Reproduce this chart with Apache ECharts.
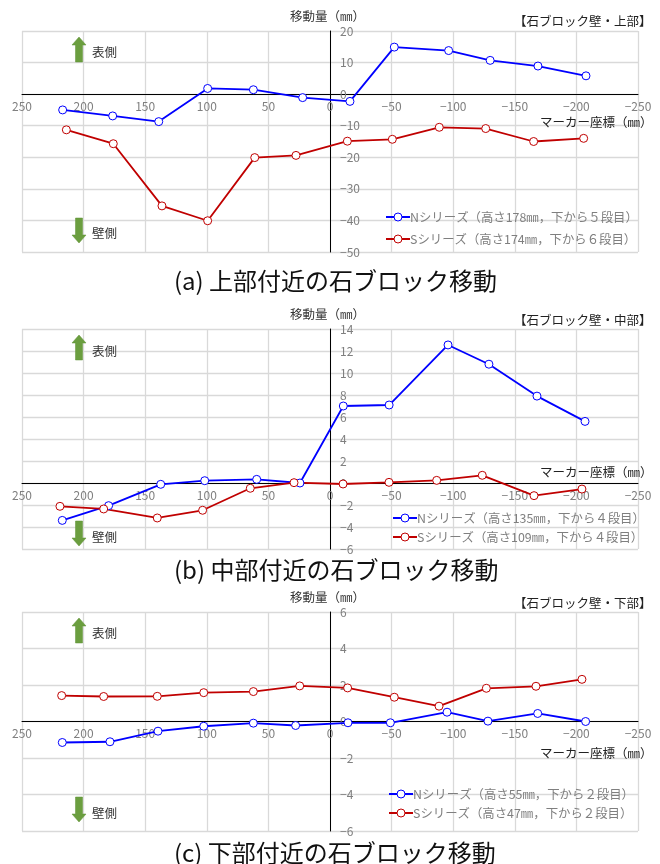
<!DOCTYPE html>
<html>
<head>
<meta charset="utf-8">
<title>石ブロック移動</title>
<script src="https://cdn.jsdelivr.net/npm/echarts@6/dist/echarts.min.js"></script>
<style>
  html, body { margin: 0; padding: 0; background: #fff; }
  #chart { width: 660px; height: 864px; }
</style>
</head>
<body>
<div id="chart"></div>
<script>
// marker positions (mm) and displacement (mm)
const topNx = [217, 176.4, 139, 99.3, 62.2, 22.2, -16.2, -52.2, -96.3, -130, -168.8, -207.8];
const topNy = [-5, -6.9, -8.7, 1.8, 1.4, -1.1, -2.3, 14.9, 13.8, 10.7, 8.9, 5.8];
const topSx = [214, 175.9, 136.4, 99.3, 61.1, 27.6, -14.1, -50.6, -88.7, -126.4, -165.3, -205.9];
const topSy = [-11.3, -15.7, -35.4, -40.1, -20.1, -19.4, -14.9, -14.3, -10.5, -10.9, -15, -14];

const midNx = [217.3, 179.7, 137.4, 101.7, 59.5, 24.4, -10.8, -48, -95.8, -129, -168, -207];
const midNy = [-3.4, -2.06, -0.12, 0.21, 0.33, 0, 7, 7.09, 12.55, 10.8, 7.9, 5.6];
const midSx = [219.2, 183.7, 140.2, 103.4, 64.7, 29.2, -10.6, -47.9, -86.6, -123.6, -165.6, -204.5];
const midSy = [-2.12, -2.36, -3.18, -2.48, -0.48, 0.03, -0.09, 0.06, 0.24, 0.7, -1.15, -0.55];

const lowNx = [217.3, 178.6, 139.6, 102.5, 62.2, 27.9, -14.6, -49, -95, -128.2, -168.6, -207.5];
const lowNy = [-1.15, -1.11, -0.53, -0.26, -0.09, -0.22, -0.07, -0.07, 0.51, 0.02, 0.44, 0];
const lowSx = [217.8, 183.7, 140.2, 102.5, 62.2, 24.6, -14.3, -52.2, -88.5, -126.9, -167.2, -204.5];
const lowSy = [1.42, 1.37, 1.38, 1.58, 1.64, 1.95, 1.84, 1.33, 0.84, 1.82, 1.93, 2.31];

const panels = [
  {
    top: 31, height: 221, yMin: -50, yMax: 20, yStep: 10,
    nName: 'Nシリーズ（高さ178㎜，下から５段目）', sName: 'Sシリーズ（高さ174㎜，下から６段目）',
    nx: topNx, ny: topNy, sx: topSx, sy: topSy,
    tag: '【石ブロック壁・上部】', caption: '(a) 上部付近の石ブロック移動',
    legendLeft: 385, legendTop: 210, legendGap: 22, xNameY: 122, axisTitleY: 16, tagY: 21, captionY: 281,
    upTop: 37, downTop: 218, upTextY: 52, downTextY: 233
  },
  {
    top: 329, height: 220, yMin: -6, yMax: 14, yStep: 2,
    nName: 'Nシリーズ（高さ135㎜，下から４段目）', sName: 'Sシリーズ（高さ109㎜，下から４段目）',
    nx: midNx, ny: midNy, sx: midSx, sy: midSy,
    tag: '【石ブロック壁・中部】', caption: '(b) 中部付近の石ブロック移動',
    legendLeft: 392, legendTop: 511, legendGap: 19, xNameY: 472, axisTitleY: 314, tagY: 320, captionY: 570,
    upTop: 335, downTop: 521, upTextY: 351, downTextY: 537
  },
  {
    top: 612, height: 219, yMin: -6, yMax: 6, yStep: 2,
    nName: 'Nシリーズ（高さ55㎜，下から２段目）', sName: 'Sシリーズ（高さ47㎜，下から２段目）',
    nx: lowNx, ny: lowNy, sx: lowSx, sy: lowSy,
    tag: '【石ブロック壁・下部】', caption: '(c) 下部付近の石ブロック移動',
    legendLeft: 388, legendTop: 787, legendGap: 19, xNameY: 753, axisTitleY: 597, tagY: 603, captionY: 853,
    upTop: 618, downTop: 797, upTextY: 633, downTextY: 813
  }
];

const FONT = '"Noto Sans CJK JP", sans-serif';
const GRID_LEFT = 22, GRID_WIDTH = 616;

function zip(xs, ys) {
  return xs.map((x, i) => [x, ys[i]]);
}

function label(text, x, y, size, color) {
  return {
    type: 'text', x: x, y: y, z: 100, silent: true,
    style: {
      text: text, fontSize: size, fontFamily: FONT, fill: color, textVerticalAlign: 'middle'
    }
  };
}

// the green arrows are drawn as plain shapes, they carry no data
function arrow(top, up) {
  const c = 79, h = 25, d = up ? 1 : -1;
  const y0 = up ? top : top + h;
  return {
    type: 'polygon', z: 100, silent: true,
    shape: { points: [
      [c, y0], [c + 7, y0 + 8 * d], [c + 3.5, y0 + 8 * d], [c + 3.5, y0 + h * d],
      [c - 3.5, y0 + h * d], [c - 3.5, y0 + 8 * d], [c - 7, y0 + 8 * d]
    ] },
    style: { fill: '#6b9e3f', stroke: '#5f9035', lineWidth: 0.5 }
  };
}

const grids = [], xAxes = [], yAxes = [], series = [], legends = [], graphics = [];

function lineSeries(name, color, xs, ys, idx) {
  return {
    name: name, type: 'line', xAxisIndex: idx, yAxisIndex: idx,
    data: zip(xs, ys), symbol: 'circle', symbolSize: 8, showSymbol: true,
    lineStyle: { color: color, width: 1.8 },
    itemStyle: { color: '#fff', borderColor: color, borderWidth: 1 },
    animation: false
  };
}

panels.forEach((p, i) => {
  grids.push({ left: GRID_LEFT, width: GRID_WIDTH, top: p.top, height: p.height, show: false });
  // v6 keeps labels at the grid edge with onZero, so shift the whole axis by offset instead
  xAxes.push({
    type: 'value', gridIndex: i, min: -250, max: 250, interval: 50, inverse: true,
    position: 'bottom',
    offset: p.height * p.yMin / (p.yMax - p.yMin),
    axisLine: { onZero: false, lineStyle: { color: '#000', width: 1 } },
    axisTick: { show: false },
    axisLabel: {
      color: '#7f7f7f', fontSize: 12, fontFamily: FONT, margin: 6,
      formatter: v => String(v).replace('-', '−')
    },
    splitLine: { show: true, lineStyle: { color: '#d9d9d9', width: 1.3 } }
  });
  yAxes.push({
    type: 'value', gridIndex: i, min: p.yMin, max: p.yMax, interval: p.yStep,
    position: 'left',
    offset: -GRID_WIDTH / 2,
    axisLine: { onZero: false, lineStyle: { color: '#000', width: 1 } },
    axisTick: { show: false },
    axisLabel: {
      inside: true, color: '#7f7f7f', fontSize: 12, fontFamily: FONT, margin: 10,
      align: 'left',
      formatter: v => String(v).replace('-', '−')
    },
    splitLine: { show: true, lineStyle: { color: '#d9d9d9', width: 1.3 } }
  });
  series.push(lineSeries(p.nName, '#0000ff', p.nx, p.ny, i));
  series.push(lineSeries(p.sName, '#c00000', p.sx, p.sy, i));
  legends.push({
    data: [p.nName, p.sName], orient: 'vertical', left: p.legendLeft, top: p.legendTop,
    padding: 0, itemGap: p.legendGap - 14, itemWidth: 24, itemHeight: 10,
    itemStyle: { borderWidth: 1 },
    textStyle: { color: '#7f7f7f', fontSize: 12.4, lineHeight: 14, fontFamily: FONT, padding: [0, 0, 0, -5] },
    selectedMode: false
  });
  graphics.push(label('移動量（㎜）', 290, p.axisTitleY, 12.5, '#333'));
  graphics.push(label(p.tag, 514, p.tagY, 12.5, '#222'));
  graphics.push(label('マーカー座標（㎜）', 540, p.xNameY, 12.5, '#222'));
  graphics.push(label(p.caption, 174, p.captionY, 24, '#111'));
  graphics.push(label('表側', 92, p.upTextY, 12.5, '#333'));
  graphics.push(label('壁側', 92, p.downTextY, 12.5, '#333'));
  graphics.push(arrow(p.upTop, true));
  graphics.push(arrow(p.downTop, false));
});

const chart = echarts.init(document.getElementById('chart'));
chart.setOption({
  backgroundColor: '#fff',
  animation: false,
  grid: grids,
  xAxis: xAxes,
  yAxis: yAxes,
  legend: legends,
  series: series,
  graphic: graphics
});
</script>
</body>
</html>
